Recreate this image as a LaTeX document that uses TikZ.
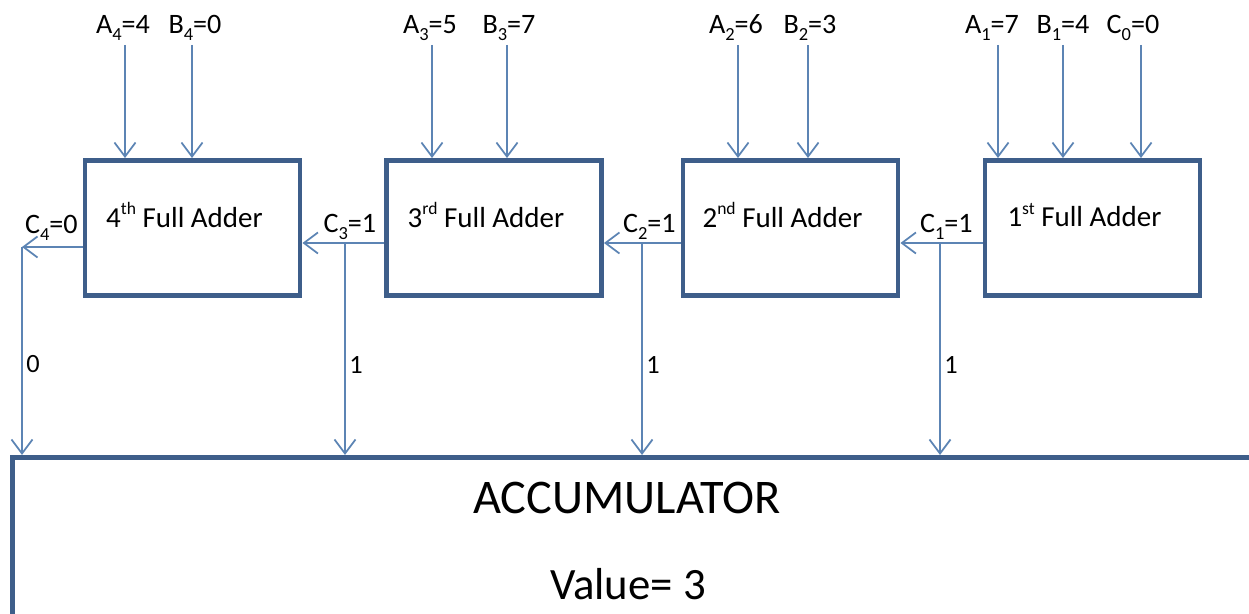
\documentclass[tikz,border=0pt]{standalone}
\usepackage{fontspec}
\setmainfont{Carlito}
\usepackage{tikz}
\usetikzlibrary{positioning, calc, arrows.meta}

\definecolor{boxblue}{RGB}{62,94,138}
\definecolor{wireblue}{RGB}{92,132,180}

% small raised / lowered digits and letters
\newcommand{\ordsup}[1]{\raisebox{0.42em}{\fontsize{10}{10}\selectfont #1}}
\newcommand{\lowsub}[1]{\raisebox{-0.22em}{\fontsize{10.5}{11}\selectfont #1}}

\tikzset{
    adder/.style={draw=boxblue, line width=2.8pt, minimum width=4.3cm, minimum height=2.7cm},
    wire/.style={draw=wireblue, line width=1pt, -{Straight Barb[length=8pt,width=12pt]}},
    lbl/.style={font=\fontsize{16}{18}\selectfont, inner sep=2pt},
    bit/.style={font=\fontsize{15}{17}\selectfont, inner sep=2pt},
    fatext/.style={font=\fontsize{16.5}{19}\selectfont}
}

\begin{document}
\begin{tikzpicture}[x=0.02cm, y=-0.02cm]
        \clip (0,0) rectangle (1249,614);

        % the full adders
        \node[adder] (fa4) at (192.5,228) {};
        \node[adder] (fa3) at (494,228) {};
        \node[adder] (fa2) at (790.5,228) {};
        \node[adder] (fa1) at (1092.5,228) {};

        \node[fatext] (t4) at ($(fa4.center)+(-8,-13)$) {4\ordsup{th} Full Adder};
        \node[fatext] (t3) at ($(fa3.center)+(-8,-13)$) {3\ordsup{rd} Full Adder};
        \node[fatext] (t2) at ($(fa2.center)+(-8,-13)$) {2\ordsup{nd} Full Adder};
        \node[fatext] (t1) at ($(fa1.center)+(-8,-13)$) {1\ordsup{st} Full Adder};

        % the accumulator
        \node[adder, anchor=north west, minimum width=26cm, minimum height=4cm] (acc) at (10,455) {};
        \node[font=\fontsize{27.5}{30}\selectfont] (acctitle) at (627,498) {ACCUMULATOR};
        \node[font=\fontsize{25.5}{28}\selectfont] (accvalue) at (628,584) {Value= 3};

        % operand inputs
        \node[lbl, anchor=base] (a4) at (123,34) {A\lowsub{4}=4};
        \node[lbl, anchor=base] (b4) at (195,34) {B\lowsub{4}=0};
        \node[lbl, anchor=base] (a3) at (430,34) {A\lowsub{3}=5};
        \node[lbl, anchor=base] (b3) at (509,34) {B\lowsub{3}=7};
        \node[lbl, anchor=base] (a2) at (736,34) {A\lowsub{2}=6};
        \node[lbl, anchor=base] (b2) at (810,34) {B\lowsub{2}=3};
        \node[lbl, anchor=base] (a1) at (992,34) {A\lowsub{1}=7};
        \node[lbl, anchor=base] (b1) at (1063,34) {B\lowsub{1}=4};
        \node[lbl, anchor=base] (c0) at (1133,34) {C\lowsub{0}=0};

        \draw[wire] (125,45) -- (125,0 |- fa4.north);
        \draw[wire] (192,45) -- (192,0 |- fa4.north);
        \draw[wire] (432,45) -- (432,0 |- fa3.north);
        \draw[wire] (507,45) -- (507,0 |- fa3.north);
        \draw[wire] (738,45) -- (738,0 |- fa2.north);
        \draw[wire] (808,45) -- (808,0 |- fa2.north);
        \draw[wire] (998,45) -- (998,0 |- fa1.north);
        \draw[wire] (1063,45) -- (1063,0 |- fa1.north);
        \draw[wire] (1141,45) -- (1141,0 |- fa1.north);

        % carries between the adders
        \coordinate (o1) at ($(fa1.west)+(0,15)$);
        \coordinate (o2) at ($(fa2.west)+(0,15)$);
        \coordinate (o3) at ($(fa3.west)+(0,15)$);
        \coordinate (o4) at ($(fa4.west)+(0,19)$);

        \draw[wire] (o1) -- (o1 -| fa2.east);
        \draw[wire] (o2) -- (o2 -| fa3.east);
        \draw[wire] (o3) -- (o3 -| fa4.east);
        \coordinate (e4) at (o4 -| 22,0);
        \draw[wire] (o4) -- (e4);

        \node[lbl, anchor=base east] (c1) at ($(o1)+(-6,-10)$) {C\lowsub{1}=1};
        \node[lbl, anchor=base east] (c2) at ($(o2)+(-1,-10)$) {C\lowsub{2}=1};
        \node[lbl, anchor=base east] (c3) at ($(o3)+(-4,-10)$) {C\lowsub{3}=1};
        \node[lbl, anchor=base east] (c4) at ($(o4)+(-1,-13)$) {C\lowsub{4}=0};

        % carry bits into the accumulator
        \coordinate (d1) at (940,0 |- o1);
        \coordinate (d2) at (642,0 |- o2);
        \coordinate (d3) at (345,0 |- o3);

        \draw[wire] (d1) -- (d1 |- acc.north) node[bit, pos=.575, right, name=v1] {1};
        \draw[wire] (d2) -- (d2 |- acc.north) node[bit, pos=.575, right, name=v2] {1};
        \draw[wire] (d3) -- (d3 |- acc.north) node[bit, pos=.575, right, name=v3] {1};
        \draw[wire] (e4) -- (e4 |- acc.north) node[bit, pos=.565, right, name=v4] {0};
    \end{tikzpicture}
\end{document}
